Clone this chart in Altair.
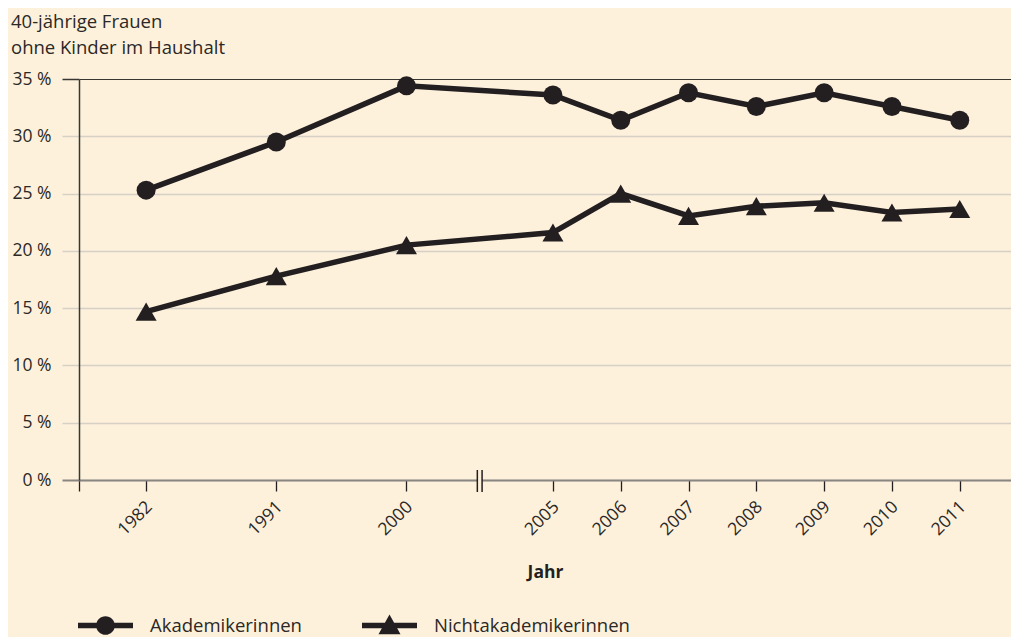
import altair as alt
import pandas as pd

# ---------------- data ----------------
years = [1982, 1991, 2000, 2005, 2006, 2007, 2008, 2009, 2010, 2011]
akademikerinnen = [25.3, 29.5, 34.4, 33.6, 31.4, 33.8, 32.6, 33.8, 32.6, 31.4]
nichtakademikerinnen = [14.7, 17.8, 20.5, 21.6, 25.0, 23.05, 23.9, 24.2, 23.35, 23.65]
series_names = ["Akademikerinnen", "Nichtakademikerinnen"]
y_ticks = [0, 5, 10, 15, 20, 25, 30, 35]

INK = "#231f20"
TEXT = "#2b2826"
BG = "#fdf1dc"
GRID = "#d6d0c5"
ZERO = "#8a8580"
TOPLINE = "#3a3632"
FONT = "Open Sans"


def slot(year):
    # broken time axis: 1982-2000 compressed, 2005-2011 one step per year
    if year <= 2000:
        return (year - 1982) * 1.92 / 9
    return year - 1999


positions = [slot(y) for y in years]
x_min, x_max = -0.99, 12.756
break_lo, break_hi = 4.885, 4.955

rows = []
for name, vals in zip(series_names, [akademikerinnen, nichtakademikerinnen]):
    for yr, v in zip(years, vals):
        rows.append({"series": name, "year": yr, "pos": slot(yr), "value": v})
df = pd.DataFrame(rows)

label_expr = "".join(
    f"abs(datum.value - {p}) < 0.01 ? '{y}' : " for p, y in zip(positions, years)
) + "''"

x_axis = alt.Axis(
    values=[x_min] + positions,
    labelExpr=label_expr,
    title="Jahr",
    titleFont=FONT,
    titleFontSize=17.5,
    titleFontWeight="bold",
    titleColor=INK,
    titlePadding=25,
    labelAngle=-45,
    labelAlign="right",
    labelBaseline="middle",
    labelPadding=13,
    labelOffset=3,
    labelFont=FONT,
    labelFontSize=17.5,
    labelColor=TEXT,
    tickSize=11,
    tickColor=INK,
    tickWidth=1.3,
    domainColor=ZERO,
    domainWidth=2,
    grid=False,
)

y_axis = alt.Axis(
    values=y_ticks,
    labelExpr="datum.value + ' %'",
    title=None,
    labelFont=FONT,
    labelFontSize=17.5,
    labelColor=TEXT,
    labelPadding=11,
    tickSize=17,
    tickColor={"condition": [{"test": "datum.value == 35", "value": TOPLINE},
                             {"test": "datum.value == 0", "value": ZERO}],
               "value": GRID},
    tickWidth={"condition": {"test": "datum.value == 0", "value": 2}, "value": 1.5},
    grid=True,
    gridColor={"condition": {"test": "datum.value == 35", "value": TOPLINE}, "value": GRID},
    gridWidth={"condition": {"test": "datum.value == 35", "value": 1.2}, "value": 1.5},
    domainColor=TOPLINE,
    domainWidth=1.5,
)

X = alt.X("pos:Q", scale=alt.Scale(domain=[x_min, x_max], nice=False, zero=False), axis=x_axis)
Y = alt.Y("value:Q", scale=alt.Scale(domain=[0, 35], nice=False), axis=y_axis)

base = alt.Chart(df)

lines = base.mark_line(color=INK, strokeWidth=5.5).encode(x=X, y=Y, detail="series:N")

circles = base.transform_filter(alt.datum.series == series_names[0]).mark_point(
    shape="circle", filled=True, size=361, color=INK, opacity=1
).encode(x="pos:Q", y="value:Q")

triangles = base.transform_filter(alt.datum.series == series_names[1]).mark_point(
    shape="triangle-up", filled=True, size=440, color=INK, opacity=1
).encode(x="pos:Q", y="value:Q")

path_circle = ("M-1,-0.1 H1 V0.1 H-1 Z "
               "M-0.34,0 A0.34,0.34 0 1,1 0.34,0 A0.34,0.34 0 1,1 -0.34,0 Z")
path_triangle = "M-1,-0.1 H1 V0.1 H-1 Z M0,-0.4 L0.4,0.32 L-0.4,0.32 Z"

legend_layer = base.transform_filter("false").mark_point(
    filled=True, color=INK, opacity=1
).encode(
    x="pos:Q",
    y="value:Q",
    shape=alt.Shape(
        "series:N",
        scale=alt.Scale(domain=series_names, range=[path_circle, path_triangle]),
        legend=alt.Legend(
            title=None,
            orient="none",
            legendX=-1,
            legendY=519,
            direction="horizontal",
            symbolSize=3025,
            symbolFillColor=INK,
            symbolStrokeWidth=0,
            symbolOpacity=1,
            labelFont=FONT,
            labelFontSize=18.5,
            labelColor=TEXT,
            labelOffset=17,
            labelLimit=400,
            columnPadding=60,
            padding=0,
        ),
    ),
)

break_df = pd.DataFrame({"pos": [break_lo, break_hi]})
break_gap = alt.Chart(pd.DataFrame({"pos": [break_lo], "pos2": [break_hi]})).mark_rect(
    color=BG
).encode(x="pos:Q", x2="pos2:Q", y=alt.value(398), y2=alt.value(404))
break_rules = alt.Chart(break_df).mark_rule(color=INK, strokeWidth=1.5).encode(
    x="pos:Q", y=alt.value(391), y2=alt.value(413)
)

chart = alt.layer(lines, circles, triangles, legend_layer, break_gap, break_rules).properties(
    width=932,
    height=401,
    autosize=alt.AutoSizeParams(type="none"),
    padding={"left": 71, "top": 71, "right": 0, "bottom": 157},
    background=BG,
    title=alt.Title(
        text=["40-jährige Frauen", "ohne Kinder im Haushalt"],
        anchor="start",
        frame="group",
        dx=-68,
        font=FONT,
        fontSize=18.5,
        fontWeight="normal",
        color=TEXT,
        lineHeight=26,
        offset=13,
    ),
).configure_view(stroke=None)

chart.save("out.html", embed_options={"renderer": "svg", "actions": False})
